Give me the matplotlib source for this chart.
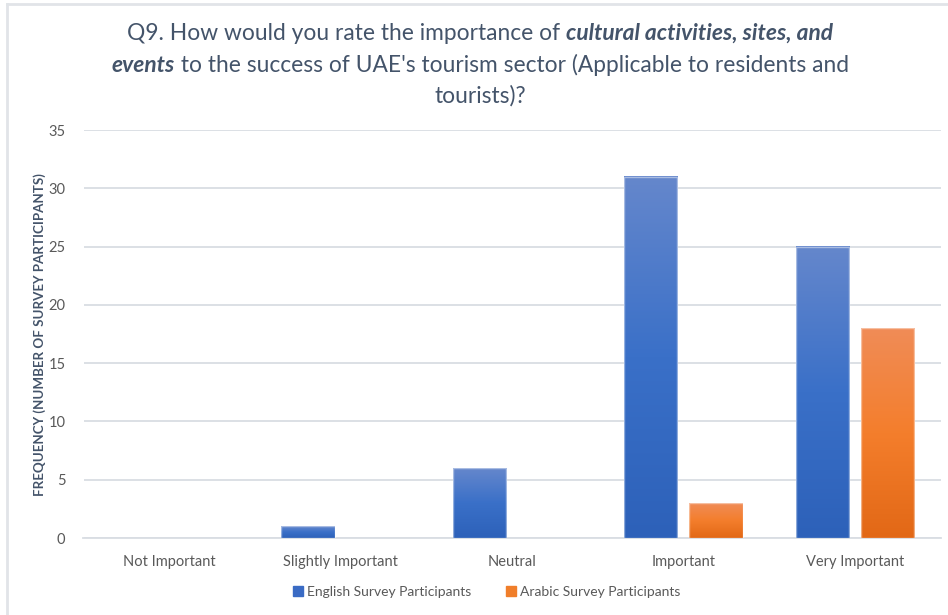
import numpy as np
import matplotlib
matplotlib.use('Agg')
from matplotlib import pyplot as plt
from matplotlib.colors import LinearSegmentedColormap
from matplotlib.patches import Rectangle
from matplotlib.lines import Line2D

categories = ['Not Important', 'Slightly Important', 'Neutral', 'Important', 'Very Important']
english = [0, 1, 6, 31, 25]
arabic = [0, 0, 0, 3, 18]
series_names = ['English Survey Participants', 'Arabic Survey Participants']
yticks = [0, 5, 10, 15, 20, 25, 30, 35]

plt.rcParams['font.family'] = ['Lato', 'DejaVu Sans']

text_col = '#44546A'
tick_col = '#595959'
grid_col = '#D9DDE3'

blue_map = LinearSegmentedColormap.from_list('blue_grad', ['#2D61B9', '#3A70C8', '#6587CC'])
orange_map = LinearSegmentedColormap.from_list('orange_grad', ['#E26816', '#F47E2C', '#F08C57'])

fig = plt.figure(figsize=(9.48, 6.15), dpi=100)
ax = fig.add_axes([83.5/948, 1-538/615, 857/948, 408/615])

x = np.arange(len(categories))
width = 0.31
offset = 0.19
grad = np.linspace(0, 1, 256).reshape(-1, 1)

def gradient_bars(xs, vals, cmap):
	# each bar is an image strip: dark at the base, lighter at the top
	for xc, v in zip(xs, vals):
		if v <= 0:
			continue
		ax.imshow(grad, extent=[xc-width/2, xc+width/2, 0, v], origin='lower',
			aspect='auto', cmap=cmap, zorder=3, interpolation='bilinear')
		ax.add_patch(Rectangle((xc-width/2, 0), width, v, fill=False,
			edgecolor=(1, 1, 1, 0.45), lw=1.0, zorder=4))

gradient_bars(x-offset, english, blue_map)
gradient_bars(x+offset, arabic, orange_map)

ax.set_xlim(-0.5, len(categories)-0.5)
ax.set_ylim(0, 35)
ax.set_yticks(yticks)
ax.set_xticks(x)
ax.set_xticklabels(categories)
ax.tick_params(axis='both', length=0, labelsize=10.5, labelcolor=tick_col)
ax.tick_params(axis='y', pad=13)
ax.tick_params(axis='x', pad=12)
ax.yaxis.grid(True, color=grid_col, lw=1.3, zorder=0)
ax.set_axisbelow(True)
for s in ['left', 'right', 'top']:
	ax.spines[s].set_visible(False)
ax.spines['bottom'].set_color(grid_col)
ax.spines['bottom'].set_linewidth(1.3)

fig.text(40/948, 1-335/615, 'FREQUENCY (NUMBER OF SURVEY PARTICIPANTS)', rotation=90,
	ha='center', va='center', fontsize=9.6, fontweight='bold', color=text_col)

# Title with bold italic phrases, laid out piece by piece
title_lines = [
	[('Q9. How would you rate the importance of ', False), ('cultural activities, sites, and', True)],
	[('events', True), (" to the success of UAE's tourism sector (Applicable to residents and", False)],
	[('tourists)?', False)],
]
title_y = [33, 65, 96]
title_cx = 480
renderer = fig.canvas.get_renderer()
for line, ypix in zip(title_lines, title_y):
	pieces = []
	total = 0
	for txt, emph in line:
		t = fig.text(0, 1-ypix/615, txt, fontsize=16.4, color=text_col, va='center', ha='left',
			fontweight='bold' if emph else 'normal', fontstyle='italic' if emph else 'normal')
		w = t.get_window_extent(renderer).width
		pieces.append((t, w))
		total += w
	xpos = title_cx - total/2
	for t, w in pieces:
		t.set_x(xpos/948)
		xpos += w

handles = [Rectangle((0, 0), 1, 1, color='#3A6BC4'), Rectangle((0, 0), 1, 1, color='#F07E2A')]
fig.legend(handles, series_names, loc='center', bbox_to_anchor=(487/948, 1-592/615), ncol=2,
	frameon=False, fontsize=10, labelcolor=tick_col, handlelength=0.7, handleheight=0.7,
	handletextpad=0.3, columnspacing=2.5)

# Light frame along the left and top edges
fig.add_artist(Line2D([7/948, 7/948], [0, 1-4/615], color='#E1E4E8', lw=2))
fig.add_artist(Line2D([7/948, 1], [1-4/615, 1-4/615], color='#E1E4E8', lw=2))

fig.savefig('out.png', dpi=100)
